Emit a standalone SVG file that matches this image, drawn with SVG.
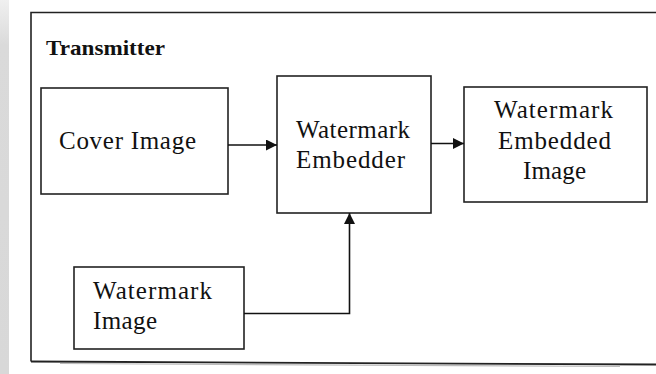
<svg xmlns="http://www.w3.org/2000/svg" width="656" height="374" viewBox="0 0 656 374">
  <style>
    .box { fill: #ffffff; stroke: #222222; stroke-width: 1.6; }
    .wire { fill: none; stroke: #111111; stroke-width: 1.6; }
    .lbl { font-family: "Liberation Serif", "Times New Roman", serif; font-size: 25px; fill: #111111; }
    .title { font-family: "Liberation Serif", "Times New Roman", serif; font-size: 22px; font-weight: bold; fill: #111111; }
  </style>
  <defs>
    <marker id="arrow" markerUnits="userSpaceOnUse" markerWidth="12" markerHeight="12" refX="11" refY="5.5" orient="auto">
      <path d="M0,0 L11,5.5 L0,11 Z" fill="#111111"/>
    </marker>
    <linearGradient id="strip" x1="0" y1="0" x2="0" y2="1">
      <stop offset="0" stop-color="#f0f0f0"/>
      <stop offset="0.12" stop-color="#dadada"/>
      <stop offset="1" stop-color="#d8d8d8"/>
    </linearGradient>
  </defs>

  <!-- page background and left margin strip -->
  <rect x="0" y="0" width="656" height="374" fill="#ffffff"/>
  <rect x="0" y="0" width="9" height="374" fill="url(#strip)"/>

  <!-- transmitter frame (open on the right) -->
  <g id="frame">
    <path d="M656,12.5 L31,12.5 L31,361.5" fill="none" stroke="#222222" stroke-width="1.6"/>
    <path d="M31,361.5 L656,364.5" fill="none" stroke="#222222" stroke-width="1.8"/>
    <path d="M60,363.5 L620,366.5" fill="none" stroke="#bbbbbb" stroke-width="1.2"/>
    <text class="title" x="46" y="55" textLength="119" lengthAdjust="spacingAndGlyphs">Transmitter</text>
  </g>

  <g id="cover-image">
    <rect class="box" x="41" y="88" width="187" height="106"/>
    <text class="lbl" x="59" y="149" textLength="137" lengthAdjust="spacing">Cover Image</text>
  </g>

  <g id="watermark-embedder">
    <rect class="box" x="277" y="76" width="154" height="137"/>
    <text class="lbl" x="296" y="138" textLength="114" lengthAdjust="spacing">Watermark</text>
    <text class="lbl" x="296" y="168" textLength="109" lengthAdjust="spacing">Embedder</text>
  </g>

  <g id="embedded-image">
    <rect class="box" x="464" y="87" width="183" height="115"/>
    <text class="lbl" x="494" y="118" textLength="119" lengthAdjust="spacing">Watermark</text>
    <text class="lbl" x="498" y="149" textLength="113" lengthAdjust="spacing">Embedded</text>
    <text class="lbl" x="523" y="179" textLength="63" lengthAdjust="spacing">Image</text>
  </g>

  <g id="watermark-image">
    <rect class="box" x="74" y="267" width="170" height="82"/>
    <text class="lbl" x="93" y="299" textLength="119" lengthAdjust="spacing">Watermark</text>
    <text class="lbl" x="93" y="329" textLength="64" lengthAdjust="spacing">Image</text>
  </g>

  <g id="connectors">
    <path class="wire" d="M228,145 L277,145" marker-end="url(#arrow)"/>
    <path class="wire" d="M431,143.5 L464,143.5" marker-end="url(#arrow)"/>
    <path class="wire" d="M244,313.5 L349.5,313.5 L349.5,213" marker-end="url(#arrow)"/>
  </g>
</svg>
